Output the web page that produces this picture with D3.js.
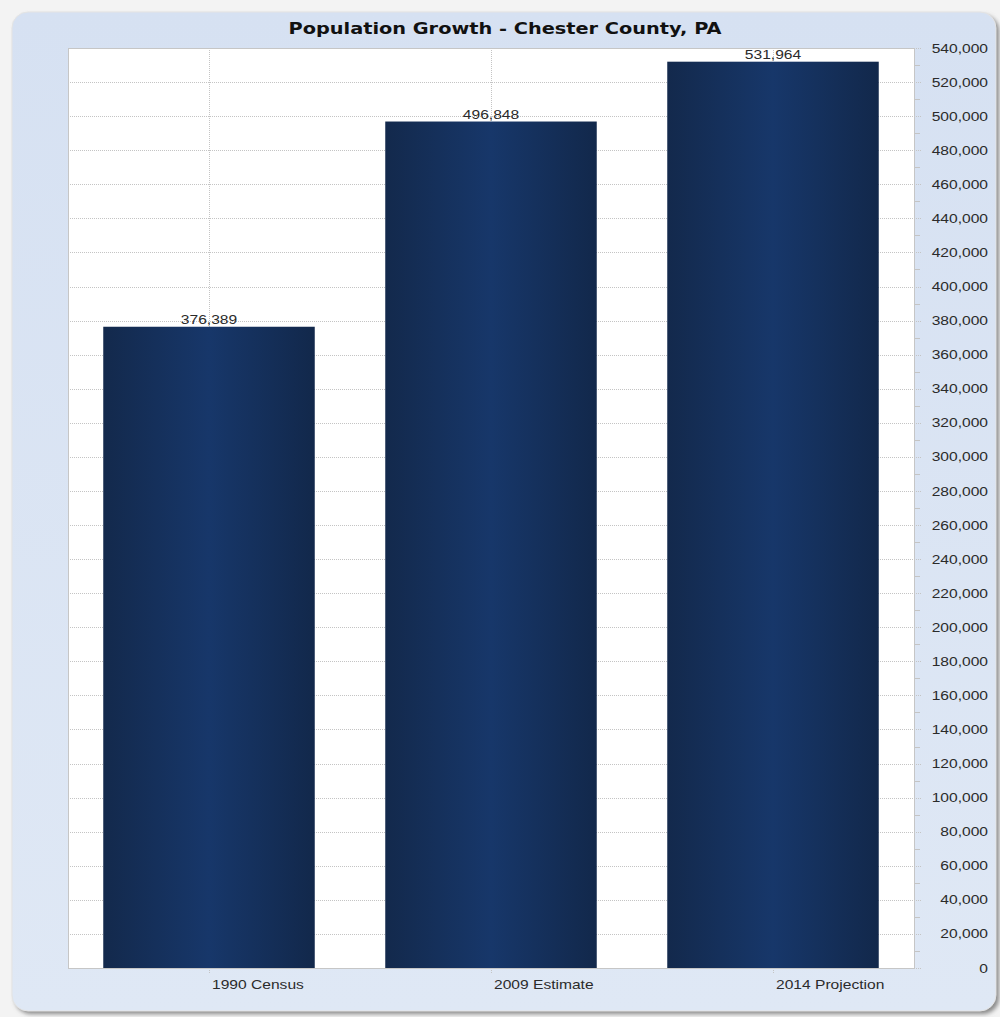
<!DOCTYPE html>
<html>
<head>
<meta charset="utf-8">
<script src="https://cdn.jsdelivr.net/npm/d3@7"></script>
<style>
  body { margin: 0; background: #f3f3f3; }
  .text { font-family: "Liberation Sans", Arial, sans-serif; fill: #2b2b2b; }
</style>
</head>
<body>
<div class="chart"></div>
<script>
// chart data
var categories = ['1990 Census', '2009 Estimate', '2014 Projection'];
var population = [376389, 496848, 531964];
var yTicks = d3.range(0, 540001, 20000);
var title = 'Population Growth - Chester County, PA';

// the original renders its text a little wide
var stretch = 1.2;

function place(px, py) {
    return "translate(" + px + "," + py + ") scale(" + stretch + ",1)";
}

function drawChart() {
    var width = 1000,
        height = 1017;

    // plot area inside the panel
    var margin = { top: 48, right: 86, bottom: 49, left: 68 },
        w = width - margin.left - margin.right,
        h = height - margin.top - margin.bottom;

    var svg = d3.select(".chart")
        .append("svg")
        .attr("width", width)
        .attr("height", height);

    var defs = svg.append("defs");

    // bar gradient: dark at the edges, lighter in the middle
    var grad = defs.append("linearGradient")
        .attr("id", "barGrad")
        .attr("x1", "0%").attr("x2", "100%")
        .attr("y1", "0%").attr("y2", "0%");
    grad.append("stop").attr("offset", "0%").attr("stop-color", "#13294c");
    grad.append("stop").attr("offset", "50%").attr("stop-color", "#17376a");
    grad.append("stop").attr("offset", "100%").attr("stop-color", "#12284b");

    var panelGrad = defs.append("linearGradient")
        .attr("id", "panelGrad")
        .attr("x1", "0%").attr("x2", "0%")
        .attr("y1", "0%").attr("y2", "100%");
    panelGrad.append("stop").attr("offset", "0%").attr("stop-color", "#d6e1f2");
    panelGrad.append("stop").attr("offset", "100%").attr("stop-color", "#dfe8f5");

    var shadow = defs.append("filter").attr("id", "shadow")
        .attr("x", "-5%").attr("y", "-5%").attr("width", "110%").attr("height", "110%");
    shadow.append("feGaussianBlur").attr("stdDeviation", 2);

    // panel shadow + panel
    svg.append("rect")
        .attr("x", 15).attr("y", 15)
        .attr("width", 984).attr("height", 999)
        .attr("rx", 16)
        .style("fill", "#8a8a8a")
        .attr("filter", "url(#shadow)");

    svg.append("rect")
        .attr("x", 12).attr("y", 12)
        .attr("width", 984).attr("height", 999)
        .attr("rx", 16)
        .style("fill", "url(#panelGrad)")
        .style("stroke", "#e4e4e4")
        .style("stroke-width", 1);

    var g = svg.append("g")
        .attr("transform", "translate(" + margin.left + "," + margin.top + ")");

    // plot background
    g.append("rect")
        .attr("width", w).attr("height", h)
        .style("fill", "#ffffff");

    var x = d3.scaleBand()
        .domain(categories)
        .range([0, w])
        .paddingInner(0.25)
        .paddingOuter(0.125);

    var y = d3.scaleLinear()
        .domain([0, 540000])
        .range([h, 0]);

    // horizontal gridlines (extend slightly past the right edge)
    g.append("g")
        .attr("class", "grid")
        .selectAll("line")
        .data(yTicks)
        .enter()
        .append("line")
        .attr("x1", 0)
        .attr("x2", w + 7)
        .attr("y1", function(d) { return Math.round(y(d)) + 0.5; })
        .attr("y2", function(d) { return Math.round(y(d)) + 0.5; })
        .style("stroke", "#c4c4c4")
        .style("stroke-dasharray", "1,1");

    // vertical gridlines at category centres
    g.append("g")
        .selectAll("line")
        .data(categories)
        .enter()
        .append("line")
        .attr("x1", function(d) { return Math.round(x(d) + x.bandwidth() / 2) + 0.5; })
        .attr("x2", function(d) { return Math.round(x(d) + x.bandwidth() / 2) + 0.5; })
        .attr("y1", 0)
        .attr("y2", h + 6)
        .style("stroke", "#c4c4c4")
        .style("stroke-dasharray", "1,1");

    // minor ticks on the right
    g.append("g")
        .selectAll("line")
        .data(yTicks.slice(0, -1))
        .enter()
        .append("line")
        .attr("x1", w)
        .attr("x2", w + 6)
        .attr("y1", function(d) { return Math.round(y(d + 10000)) + 0.5; })
        .attr("y2", function(d) { return Math.round(y(d + 10000)) + 0.5; })
        .style("stroke", "#c4c4c4");

    // bars
    g.selectAll(".bar")
        .data(population)
        .enter()
        .append("rect")
        .attr("class", "bar")
        .attr("x", function(d, i) { return x(categories[i]); })
        .attr("width", x.bandwidth())
        .attr("y", function(d) { return y(d); })
        .attr("height", function(d) { return h - y(d); })
        .style("fill", "url(#barGrad)");

    // value labels
    g.selectAll(".val")
        .data(population)
        .enter()
        .append("text")
        .attr("class", "text")
        .attr("transform", function(d, i) {
            return place(x(categories[i]) + x.bandwidth() / 2, y(d) - 3);
        })
        .attr("text-anchor", "middle")
        .style("font-size", "13px")
        .text(function(d) { return d3.format(",")(d); });

    // plot border
    g.append("rect")
        .attr("x", 0.5).attr("y", 0.5)
        .attr("width", w).attr("height", h)
        .style("fill", "none")
        .style("stroke", "#c6c6c6");

    // y axis labels on the right
    g.append("g")
        .selectAll("text")
        .data(yTicks)
        .enter()
        .append("text")
        .attr("class", "text")
        .attr("transform", function(d) { return place(w + 74, y(d)); })
        .attr("dy", "0.35em")
        .attr("text-anchor", "end")
        .style("font-size", "13px")
        .text(function(d) { return d3.format(",")(d); });

    // category labels, starting at the tick
    g.append("g")
        .selectAll("text")
        .data(categories)
        .enter()
        .append("text")
        .attr("class", "text")
        .attr("transform", function(d) { return place(x(d) + x.bandwidth() / 2 + 3, h + 21); })
        .style("font-size", "13px")
        .text(function(d) { return d; });

    // title
    svg.append("text")
        .attr("x", 505)
        .attr("y", 34)
        .attr("text-anchor", "middle")
        .attr("textLength", 433)
        .attr("lengthAdjust", "spacingAndGlyphs")
        .style("font-family", "'DejaVu Sans', Verdana, sans-serif")
        .style("font-weight", "bold")
        .style("font-size", "16px")
        .style("fill", "#111")
        .text(title);
}

drawChart();
</script>
</body>
</html>
